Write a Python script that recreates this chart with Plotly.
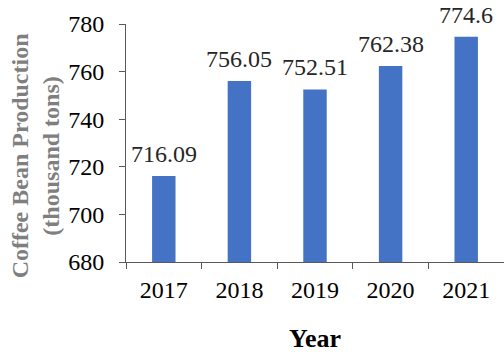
import plotly.graph_objects as go

years = ["2017", "2018", "2019", "2020", "2021"]
production = [716.09, 756.05, 752.51, 762.38, 774.6]
value_labels = ["716.09", "756.05", "752.51", "762.38", "774.6"]
y_ticks = [680, 700, 720, 740, 760, 780]

serif = "Liberation Serif"

fig = go.Figure(
    go.Bar(
        x=years,
        y=production,
        marker=dict(color="#4472C4", line=dict(width=0)),
        width=0.31,
    )
)

# value labels sit a little above each bar top (x given as category index)
value_annotations = [
    dict(
        x=i, y=val, text=lab,
        xref="x", yref="y",
        xanchor="center", yanchor="bottom",
        yshift=7,
        showarrow=False,
        font=dict(family=serif, size=24, color="#262626"),
    )
    for i, (val, lab) in enumerate(zip(production, value_labels))
]

fig.update_layout(
    width=504,
    height=352,
    margin=dict(l=126, r=0, t=24, b=90),
    paper_bgcolor="white",
    plot_bgcolor="white",
    showlegend=False,
    font=dict(family=serif, size=24, color="black"),
    xaxis=dict(
        type="category",
        categoryorder="array",
        categoryarray=years,
        showline=True,
        linecolor="#595959",
        linewidth=1,
        ticks="outside",
        tickson="boundaries",
        ticklen=6,
        tickcolor="#595959",
        ticklabelstandoff=6,
        tickfont=dict(family=serif, size=24, color="black"),
    ),
    yaxis=dict(
        range=[680, 780],
        tickvals=y_ticks,
        showline=True,
        linecolor="#595959",
        linewidth=1,
        ticks="outside",
        ticklen=6,
        tickcolor="#595959",
        ticklabelstandoff=10,
        showgrid=False,
        zeroline=False,
        tickfont=dict(family=serif, size=24, color="black"),
    ),
    annotations=value_annotations + [
        dict(
            text="<b>Coffee Bean Production<br>(thousand tons)</b>",
            xref="paper", yref="paper",
            x=-0.24, y=0.445,
            xanchor="center", yanchor="middle",
            textangle=-90,
            showarrow=False,
            font=dict(family=serif, size=24, color="#7F7F7F"),
        ),
        dict(
            text="<b>Year</b>",
            xref="paper", yref="paper",
            x=0.5, y=-0.32,
            xanchor="center", yanchor="middle",
            showarrow=False,
            font=dict(family=serif, size=26, color="black"),
        ),
    ],
)

fig.write_html("out.html")
